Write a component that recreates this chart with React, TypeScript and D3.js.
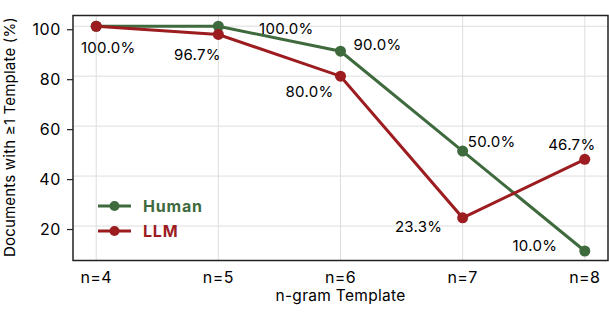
import * as d3 from 'd3';
import { useEffect, useRef } from "react";

const categories = ['n=4', 'n=5', 'n=6', 'n=7', 'n=8'];
const humanValues = [100.0, 100.0, 90.0, 50.0, 10.0];
const llmValues = [100.0, 96.7, 80.0, 23.3, 46.7];
const yTicks = [20, 40, 60, 80, 100];

// label placement per point (px offsets from the marker), null = no label
const humanLabelOffsets = [null, [68, 8], [37, -1], [29, -4], [-50, 0]];
const llmLabelOffsets = [[12, 27], [-21, 26], [-31, 21], [-44, 14], [-13, -9]];

const W = 609, H = 313;
const green = '#3e6a3e';
const red = '#9c1c1f';

const App = () => {
    const svgRef = useRef(null);

    useEffect(() => {
        const svg = d3.select(svgRef.current);
        svg.selectAll('*').remove();

        const left = 73, right = 608, top = 15.5, bottom = 260.5;

        const x = d3.scalePoint()
            .domain(categories)
            .range([left, right])
            .padding(0.19);

        const y = d3.scaleLinear()
            .domain([6.2, 104.3])
            .range([bottom, top]);

        // grid
        svg.append('g')
            .selectAll('line')
            .data(categories)
            .enter()
            .append('line')
            .attr('x1', d => x(d)).attr('x2', d => x(d))
            .attr('y1', top).attr('y2', bottom)
            .attr('stroke', '#dedede').attr('stroke-width', 1);
        svg.append('g')
            .selectAll('line')
            .data(yTicks)
            .enter()
            .append('line')
            .attr('x1', left).attr('x2', right)
            .attr('y1', d => y(d)).attr('y2', d => y(d))
            .attr('stroke', '#dedede').attr('stroke-width', 1);

        // y ticks (sit a little below the grid lines in the original)
        const tickShift = 3.5;
        const yt = svg.append('g');
        yt.selectAll('line')
            .data(yTicks)
            .enter()
            .append('line')
            .attr('x1', left - 6).attr('x2', left)
            .attr('y1', d => y(d) + tickShift).attr('y2', d => y(d) + tickShift)
            .attr('stroke', '#222').attr('stroke-width', 1.2);
        yt.selectAll('text')
            .data(yTicks)
            .enter()
            .append('text')
            .attr('x', left - 12)
            .attr('y', d => y(d) + tickShift)
            .attr('dy', '0.36em')
            .attr('text-anchor', 'end')
            .attr('font-size', 16)
            .attr('letter-spacing', 0.6)
            .text(d => d);

        // x tick labels
        svg.append('g')
            .selectAll('text')
            .data(categories)
            .enter()
            .append('text')
            .attr('x', d => x(d))
            .attr('y', 283)
            .attr('text-anchor', 'middle')
            .attr('font-size', 16)
            .attr('letter-spacing', 0.4)
            .text(d => d);

        svg.append('text')
            .attr('x', (left + right) / 2)
            .attr('y', 301)
            .attr('text-anchor', 'middle')
            .attr('font-size', 15.5)
            .attr('letter-spacing', 0.3)
            .text('n-gram Template');
        svg.append('text')
            .attr('transform', 'rotate(270)')
            .attr('x', -(top + bottom) / 2 + 1)
            .attr('y', 15)
            .attr('text-anchor', 'middle')
            .attr('font-size', 15)
            .attr('letter-spacing', 0.2)
            .text('Documents with ≥1 Template (%)');

        const series = [
            { name: 'Human', values: humanValues, color: green, offsets: humanLabelOffsets },
            { name: 'LLM', values: llmValues, color: red, offsets: llmLabelOffsets },
        ];

        const line = d3.line()
            .x((d, i) => x(categories[i]))
            .y(d => y(d));

        series.forEach(s => {
            svg.append('path')
                .attr('d', line(s.values))
                .attr('fill', 'none')
                .attr('stroke', s.color)
                .attr('stroke-width', 3);
            svg.append('g')
                .selectAll('circle')
                .data(s.values)
                .enter()
                .append('circle')
                .attr('cx', (d, i) => x(categories[i]))
                .attr('cy', d => y(d))
                .attr('r', 5.5)
                .attr('fill', s.color);
        });

        series.forEach(s => {
            svg.append('g')
                .selectAll('text')
                .data(s.values.map((v, i) => ({ v, i, off: s.offsets[i] })).filter(d => d.off))
                .enter()
                .append('text')
                .attr('x', d => x(categories[d.i]) + d.off[0])
                .attr('y', d => y(d.v) + d.off[1])
                .attr('text-anchor', 'middle')
                .attr('font-size', 15)
                .attr('letter-spacing', 0.3)
                .text(d => d.v.toFixed(1) + '%');
        });

        // frame
        svg.append('rect')
            .attr('x', left).attr('y', top)
            .attr('width', right - left).attr('height', bottom - top)
            .attr('fill', 'none')
            .attr('stroke', '#222')
            .attr('stroke-width', 1.5);

        // legend
        const lg = svg.append('g');
        series.forEach((s, i) => {
            const ly = 206 + i * 25;
            lg.append('line')
                .attr('x1', 98).attr('x2', 131)
                .attr('y1', ly).attr('y2', ly)
                .attr('stroke', s.color).attr('stroke-width', 3);
            lg.append('circle')
                .attr('cx', 114.5).attr('cy', ly).attr('r', 5)
                .attr('fill', s.color);
            lg.append('text')
                .attr('x', 143).attr('y', ly)
                .attr('dy', '0.36em')
                .attr('font-size', 16)
                .attr('font-weight', 'bold')
                .attr('letter-spacing', 0.8)
                .attr('fill', s.color)
                .text(s.name);
        });
    }, []);

    return (
        <div>
            <svg ref={svgRef} width={W} height={H}
                style={{ position: 'absolute', left: 0, top: 0, fontFamily: 'Inter, sans-serif', background: '#fff' }} />
        </div>
    );
};

export default App;
